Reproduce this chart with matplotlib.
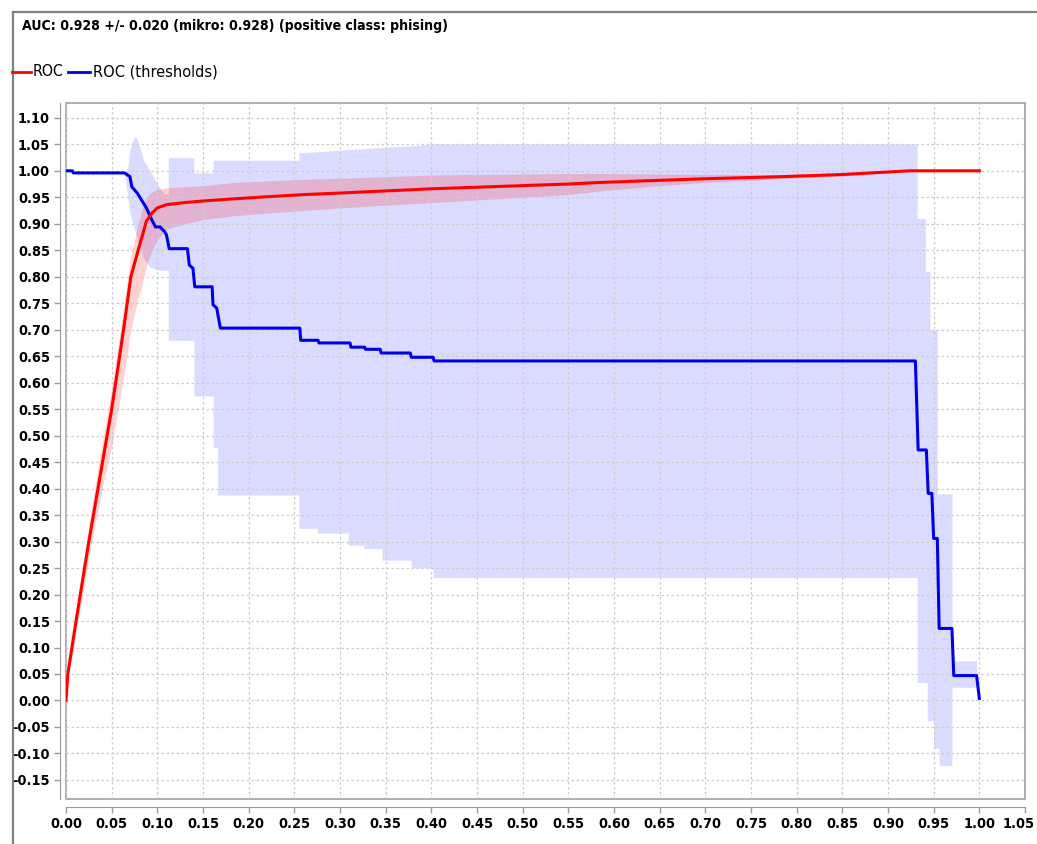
import matplotlib.pyplot as plt
from matplotlib.lines import Line2D
from matplotlib.patches import Rectangle
from matplotlib.transforms import ScaledTranslation

plt.rcParams['font.family'] = ['DejaVu Sans']
plt.rcParams['font.stretch'] = 'condensed'

title = "AUC: 0.928 +/- 0.020 (mikro: 0.928) (positive class: phising)"

# mean ROC curve with its spread
roc_fpr = [0.000, 0.002, 0.011, 0.025, 0.035, 0.042, 0.050, 0.057, 0.063, 0.071, 0.079, 0.084,
           0.088, 0.094, 0.100, 0.110, 0.130, 0.150, 0.183, 0.220, 0.260, 0.300, 0.350, 0.400,
           0.450, 0.500, 0.550, 0.585, 0.650, 0.700, 0.785, 0.850, 0.924, 1.000]
roc_tpr = [0.000, 0.050, 0.150, 0.300, 0.400, 0.470, 0.550, 0.630, 0.700, 0.800, 0.850, 0.880,
           0.905, 0.920, 0.930, 0.936, 0.940, 0.943, 0.947, 0.951, 0.955, 0.958, 0.962, 0.966,
           0.969, 0.972, 0.975, 0.978, 0.982, 0.985, 0.989, 0.993, 1.000, 1.000]
roc_lo = [0.000, 0.040, 0.130, 0.270, 0.360, 0.420, 0.480, 0.550, 0.610, 0.700, 0.760, 0.790,
          0.820, 0.850, 0.870, 0.890, 0.900, 0.908, 0.915, 0.920, 0.925, 0.930, 0.935, 0.940,
          0.945, 0.950, 0.955, 0.962, 0.972, 0.978, 0.985, 0.990, 1.000, 1.000]
roc_hi = [0.000, 0.060, 0.170, 0.330, 0.440, 0.510, 0.590, 0.670, 0.740, 0.840, 0.900, 0.930,
          0.950, 0.960, 0.965, 0.968, 0.970, 0.972, 0.978, 0.981, 0.984, 0.986, 0.989, 0.992,
          0.993, 0.994, 0.995, 0.995, 0.994, 0.993, 0.993, 0.996, 1.000, 1.000]

# ROC over thresholds
thr_x = [0.000, 0.007, 0.008, 0.064, 0.070, 0.072, 0.078, 0.088, 0.094, 0.098, 0.103, 0.108,
         0.110, 0.113, 0.133, 0.135, 0.139, 0.141, 0.160, 0.161, 0.165, 0.169, 0.256, 0.257,
         0.276, 0.277, 0.311, 0.312, 0.327, 0.328, 0.344, 0.345, 0.377, 0.378, 0.402, 0.403,
         0.930, 0.933, 0.942, 0.944, 0.948, 0.950, 0.954, 0.956, 0.970, 0.972, 0.997, 1.000]
thr_y = [1.000, 1.000, 0.996, 0.996, 0.989, 0.970, 0.958, 0.930, 0.907, 0.894, 0.894, 0.885,
         0.879, 0.853, 0.853, 0.822, 0.816, 0.781, 0.781, 0.747, 0.741, 0.703, 0.703, 0.680,
         0.680, 0.675, 0.675, 0.667, 0.667, 0.663, 0.663, 0.656, 0.656, 0.648, 0.648, 0.641,
         0.641, 0.473, 0.473, 0.391, 0.391, 0.306, 0.306, 0.136, 0.136, 0.047, 0.047, 0.004]

band_x = [0.064, 0.067, 0.070, 0.075, 0.078, 0.085, 0.092, 0.100, 0.108, 0.112, 0.112, 0.140,
          0.140, 0.161, 0.161, 0.166, 0.166, 0.255, 0.255, 0.275, 0.275, 0.309, 0.309, 0.326,
          0.326, 0.346, 0.346, 0.378, 0.378, 0.402, 0.402, 0.932, 0.932, 0.941, 0.941, 0.943,
          0.943, 0.946, 0.946, 0.950, 0.950, 0.954, 0.954, 0.956, 0.956, 0.970, 0.970, 0.997]
band_lo = [0.996, 0.960, 0.920, 0.890, 0.870, 0.835, 0.818, 0.813, 0.812, 0.812, 0.680, 0.680,
           0.575, 0.575, 0.478, 0.478, 0.388, 0.388, 0.325, 0.325, 0.316, 0.316, 0.293, 0.293,
           0.287, 0.287, 0.265, 0.265, 0.250, 0.250, 0.232, 0.232, 0.034, 0.034, 0.034, 0.034,
           -0.038, -0.038, -0.038, -0.038, -0.090, -0.090, -0.090, -0.090, -0.123, -0.123, 0.025, 0.025]
band_hi = [0.996, 1.000, 1.040, 1.065, 1.060, 1.020, 1.000, 0.975, 0.955, 0.955, 1.025, 1.025,
           0.996, 0.996, 1.020, 1.020, 1.020, 1.020, 1.034, 1.036, 1.036, 1.040, 1.040, 1.042,
           1.042, 1.044, 1.044, 1.047, 1.047, 1.051, 1.051, 1.051, 0.910, 0.910, 0.810, 0.810,
           0.810, 0.810, 0.700, 0.700, 0.700, 0.700, 0.390, 0.390, 0.390, 0.390, 0.075, 0.075]

x_ticks = [round(i * 0.05, 2) for i in range(22)]
y_ticks = [round(-0.15 + i * 0.05, 2) for i in range(26)]

W, H = 1037, 844
fig = plt.figure(figsize=(W / 100, H / 100), dpi=100)
ax = fig.add_axes([66 / W, 1 - 799 / H, (1025 - 66) / W, (799 - 103) / H])

ax.fill_between(band_x, band_lo, band_hi, color='#0000ff', alpha=0.14, lw=0)
ax.fill_between(roc_fpr, roc_lo, roc_hi, color='#ff0000', alpha=0.18, lw=0)
ax.plot(thr_x, thr_y, color='#0000e6', lw=2.2)
ax.plot(roc_fpr, roc_tpr, color='#ff0000', lw=2.2)

ax.set_xlim(0, 1.05)
ax.set_ylim(-0.186, 1.128)
ax.set_xticks(x_ticks, labels=[f'{v:.2f}' for v in x_ticks])
ax.set_yticks(y_ticks, labels=[f'{v:.2f}' for v in y_ticks])
ax.tick_params(direction='out', length=4, width=1, color='#999999', pad=3, labelsize=12)
ax.grid(True, color='#cccccc', linestyle=(0, (2, 2)), lw=0.9)

for s in ['top', 'right']:
    ax.spines[s].set_visible(False)
ax.spines['left'].set_position(('outward', 4.5))
ax.spines['bottom'].set_position(('outward', 6))
for s in ['left', 'bottom']:
    ax.spines[s].set_color('#999999')
ax.add_patch(Rectangle((0, 0), 1, 1, transform=ax.transAxes, fill=False,
                       ec='#a0a0a0', lw=1.2, clip_on=False))

# outer frame
fig.add_artist(Line2D([13 / W, 13 / W], [1 - 12 / H, 0], color='#808080', lw=1.6))
fig.add_artist(Line2D([13 / W, 1], [1 - 12 / H, 1 - 12 / H], color='#808080', lw=1.6))

head = fig.text(22 / W, 1 - 26 / H, title, fontsize=11.5, fontweight='bold', va='center')

# legend
ly = 1 - 72 / H
fig.add_artist(Line2D([12 / W, 31 / W], [ly, ly], color='#ff0000', lw=2))
leg1 = fig.text(33 / W, ly, 'ROC', fontsize=13, va='center')
fig.add_artist(Line2D([68 / W, 90 / W], [ly, ly], color='#0000e6', lw=2))
leg2 = fig.text(93 / W, ly, 'ROC (thresholds)', fontsize=13, va='center')

# shrink or grow texts to the pixel widths they should take
fig.canvas.draw()
renderer = fig.canvas.get_renderer()


def fit(txt, width_px):
    w = txt.get_window_extent(renderer).width
    txt.set_fontsize(txt.get_fontsize() * width_px / w)


def bold_ticks():
    for t in ax.get_xticklabels() + ax.get_yticklabels():
        t.set_fontweight('bold')


fit(head, 428)
fit(leg1, 31)
fit(leg2, 124)

bold_ticks()
sample = ax.get_xticklabels()[0]
w0 = sample.get_window_extent(renderer).width
ax.tick_params(labelsize=sample.get_fontsize() * 32 / w0)
bold_ticks()

# keep the last x label inside the figure
last = ax.get_xticklabels()[-1]
last.set_transform(last.get_transform() + ScaledTranslation(-6 / 100, 0, fig.dpi_scale_trans))

fig.savefig('out.png', dpi=100)
